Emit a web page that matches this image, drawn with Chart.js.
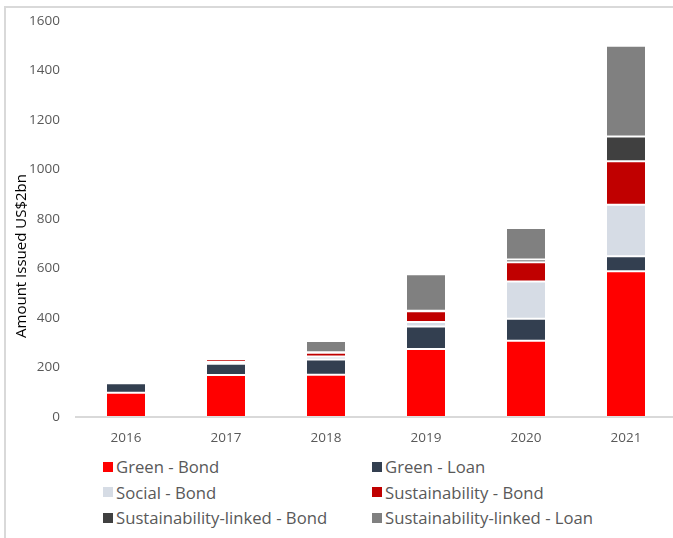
<!DOCTYPE html>
<html>
<head>
<meta charset="utf-8">
<script src="https://cdn.jsdelivr.net/npm/chart.js@4/dist/chart.umd.min.js"></script>
<style>
  html, body { margin: 0; padding: 0; background: #fff; }
  #wrap { position: relative; width: 673px; height: 538px; overflow: hidden; font-family: "Open Sans", sans-serif; }
  #frame { position: absolute; left: 4px; top: 6px; width: 700px; height: 600px; border-left: 2px solid #D9D9D9; border-top: 2px solid #D9D9D9; }
  #cv { position: absolute; left: 0; top: 0; }
  #legend { position: absolute; left: 103px; top: 454px; display: grid; grid-template-columns: 269px 280px; grid-auto-rows: 25.5px; }
  .item { display: flex; align-items: center; font-size: 16.7px; color: #595959; white-space: nowrap; }
  .box { width: 10px; height: 10px; margin-right: 3px; flex: none; }
</style>
</head>
<body>
<div id="wrap">
  <div id="frame"></div>
  <canvas id="cv" width="676" height="452" style="width:676px;height:452px"></canvas>
  <div id="legend"></div>
</div>
<script>
const years = ["2016", "2017", "2018", "2019", "2020", "2021"];
const greenBond = [98, 170, 171, 275, 308, 589];
const greenLoan = [38, 45, 61, 91, 89, 60];
const socialBond = [2, 8, 12, 18, 150, 209];
const sustainabilityBond = [5, 11, 16, 43, 78, 175];
const slBond = [0, 0, 2, 2, 11, 100];
const slLoan = [0, 6, 45, 148, 128, 367];
const yTicks = [0, 200, 400, 600, 800, 1000, 1200, 1400, 1600];

const seriesNames = ["Green - Bond", "Green - Loan", "Social - Bond", "Sustainability - Bond", "Sustainability-linked - Bond", "Sustainability-linked - Loan"];
const seriesData = [greenBond, greenLoan, socialBond, sustainabilityBond, slBond, slLoan];
const seriesColors = ["#FF0000", "#333F50", "#D6DCE5", "#C00000", "#404040", "#808080"];

const datasets = seriesNames.map((n, i) => ({
  label: n,
  data: seriesData[i],
  backgroundColor: seriesColors[i],
  borderColor: "rgba(255,255,255,0.15)",
  borderWidth: 1,
  borderSkipped: false,
  barPercentage: 0.4,
  categoryPercentage: 1.0
}));

const yTitlePlugin = {
  id: "yTitle",
  afterDraw(chart) {
    const ctx = chart.ctx;
    const a = chart.chartArea;
    ctx.save();
    ctx.translate(22, a.bottom - 161);
    ctx.rotate(-Math.PI / 2);
    ctx.font = "15px 'Open Sans'";
    ctx.fillStyle = "#000000";
    ctx.textAlign = "center";
    ctx.textBaseline = "middle";
    ctx.fillText("Amount Issued US$2bn", 0, 0);
    ctx.restore();
  }
};

const chart = new Chart(document.getElementById("cv"), {
  type: "bar",
  data: { labels: years, datasets },
  options: {
    responsive: false,
    animation: false,
    layout: { padding: { top: 21, left: 0, right: 0, bottom: 0 } },
    plugins: { legend: { display: false }, tooltip: { enabled: false } },
    scales: {
      x: {
        stacked: true,
        grid: { display: false, drawTicks: false },
        border: { display: true, color: "#D9D9D9", width: 2 },
        ticks: { color: "#595959", font: { family: "Open Sans", size: 13.5 }, padding: 13 },
        afterFit(scale) { scale.height = 35; scale.paddingLeft = 0; scale.paddingRight = 0; }
      },
      y: {
        stacked: true,
        min: 0,
        max: 1600,
        afterBuildTicks(scale) { scale.ticks = yTicks.map(v => ({ value: v })); },
        afterFit(scale) { scale.width = 76; scale.paddingTop = 0; scale.paddingBottom = 0; },
        grid: { display: false, drawTicks: false },
        border: { display: false },
        ticks: { color: "#595959", font: { family: "Open Sans", size: 13.5 }, padding: 16, callback: v => String(v) }
      }
    }
  },
  plugins: [yTitlePlugin]
});

const leg = document.getElementById("legend");
chart.data.datasets.forEach(ds => {
  const it = document.createElement("div");
  it.className = "item";
  const b = document.createElement("span");
  b.className = "box";
  b.style.background = ds.backgroundColor;
  const t = document.createElement("span");
  t.textContent = ds.label;
  it.appendChild(b);
  it.appendChild(t);
  leg.appendChild(it);
});
</script>
</body>
</html>
